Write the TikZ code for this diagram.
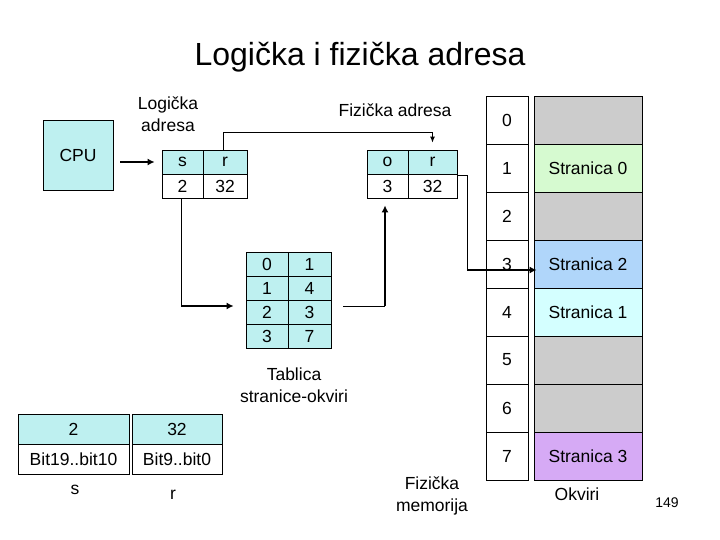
\documentclass[tikz,border=0pt]{standalone}
\usepackage{fontspec}
\setmainfont{Liberation Sans}
\usetikzlibrary{arrows.meta,calc}
\definecolor{cyanbox}{RGB}{190,240,240}
\definecolor{memgrey}{RGB}{204,204,204}
\definecolor{memgreen}{RGB}{214,250,208}
\definecolor{memblue}{RGB}{176,214,250}
\definecolor{memcyan}{RGB}{212,255,255}
\definecolor{memlav}{RGB}{214,170,245}
\begin{document}
\begin{tikzpicture}[x=1pt,y=-1pt,
  every node/.style={font=\fontsize{17.5}{22}\selectfont, inner sep=0pt},
  cell/.style={draw, line width=0.8pt, anchor=center, minimum height=#1},
  cell/.default=24,
  thin line/.style={line width=0.9pt},
  thick arrow/.style={line width=2pt, -{Latex[length=7pt,width=7pt]}},
  thin arrow/.style={line width=0.9pt, -{Latex[length=6pt,width=5pt]}},
  lbl/.style={align=center}]
\useasboundingbox (0,0) rectangle (720,540);

% title
\node[font=\fontsize{32}{38}\selectfont] (title) at (360,57) {Logička i fizička adresa};

% CPU
\node[draw, line width=0.8pt, fill=cyanbox, minimum width=70, minimum height=70] (cpu) at (78,155) {CPU};

% logical address
\node[lbl] (lalabel) at (168,114) {Logička\\adresa};
\node[cell, fill=cyanbox, minimum width=41] (ls) at (182.5,162) {s};
\node[cell, fill=cyanbox, minimum width=44] (lr) at (225,162) {r};
\node[cell, fill=white, minimum width=41] (ls2) at (182.5,186) {2};
\node[cell, fill=white, minimum width=44] (lr2) at (225,186) {32};

% physical address
\node (palabel) at (395,110) {Fizička adresa};
\node[cell, fill=cyanbox, minimum width=41] (po) at (387.5,162) {o};
\node[cell, fill=cyanbox, minimum width=49] (pr) at (432.5,162) {r};
\node[cell, fill=white, minimum width=41] (po2) at (387.5,186) {3};
\node[cell, fill=white, minimum width=49] (pr2) at (432.5,186) {32};

% page table
\foreach \i/\a/\b in {0/0/1,1/1/4,2/2/3,3/3/7}{
  \node[cell, fill=cyanbox, minimum width=42] (ta\i) at (267,264+24*\i) {\a};
  \node[cell, fill=cyanbox, minimum width=43] (tb\i) at (309.5,264+24*\i) {\b};
}
\node[lbl] (tlabel) at (294,385) {Tablica\\stranice-okviri};

% memory
\foreach \i/\c/\t in {0/memgrey/,1/memgreen/Stranica 0,2/memgrey/,3/memblue/Stranica 2,4/memcyan/Stranica 1,5/memgrey/,6/memgrey/,7/memlav/Stranica 3}{
  \node[cell=48, fill=white, minimum width=42] (mi\i) at (507,120+48*\i) {\i};
  \node[cell=48, fill=\c, minimum width=108] (ms\i) at (588,120+48*\i) {\t};
}
\node (mlabel) at (432,496) [lbl] {Fizička\\memorija};
\node (okv) at (577,494) {Okviri};
\node[font=\fontsize{14}{16}\selectfont] (pg) at (667,503) {149};

% bottom boxes
\node[cell=30, fill=cyanbox, minimum width=111] (b1) at (73.5,429) {2};
\node[cell=30, fill=white, minimum width=111] (b2) at (73.5,459) {Bit19..bit10};
\node[cell=30, fill=cyanbox, minimum width=90] (b3) at (177,429) {32};
\node[cell=30, fill=white, minimum width=90] (b4) at (177,459) {Bit9..bit0};
\node (bs) at (75,490) {s};
\node (br) at (173,495) {r};

% connectors
\draw[thick arrow] ([xshift=7pt]cpu.east |- ls.center) -- ([xshift=-7pt]ls.west);

\coordinate (c1) at (223,132);
\draw[thin arrow] (lr.north -| c1) -- (c1) -| ([yshift=7pt]pr.north);

\coordinate (c2) at (181,306);
\draw[thin line] (ls2.south -| c2) -- (c2);
\draw[thick arrow] (c2) -- ([xshift=-12pt]c2 -| ta2.west);

\coordinate (c3) at (385,306);
\draw[thin line] ([xshift=12pt]c3 -| tb2.east) -- (c3);
\draw[thick arrow] (c3) -- ([yshift=-7pt]c3 |- po2.south);

\coordinate (c4) at (467,175);
\coordinate (c5) at (467,270);
\draw[thin line] (pr2.east |- c4) -- (c4) -- (c5);
\draw[thick arrow] (c5) -- ([xshift=3pt]c5 -| ms3.west);
\end{tikzpicture}
\end{document}
